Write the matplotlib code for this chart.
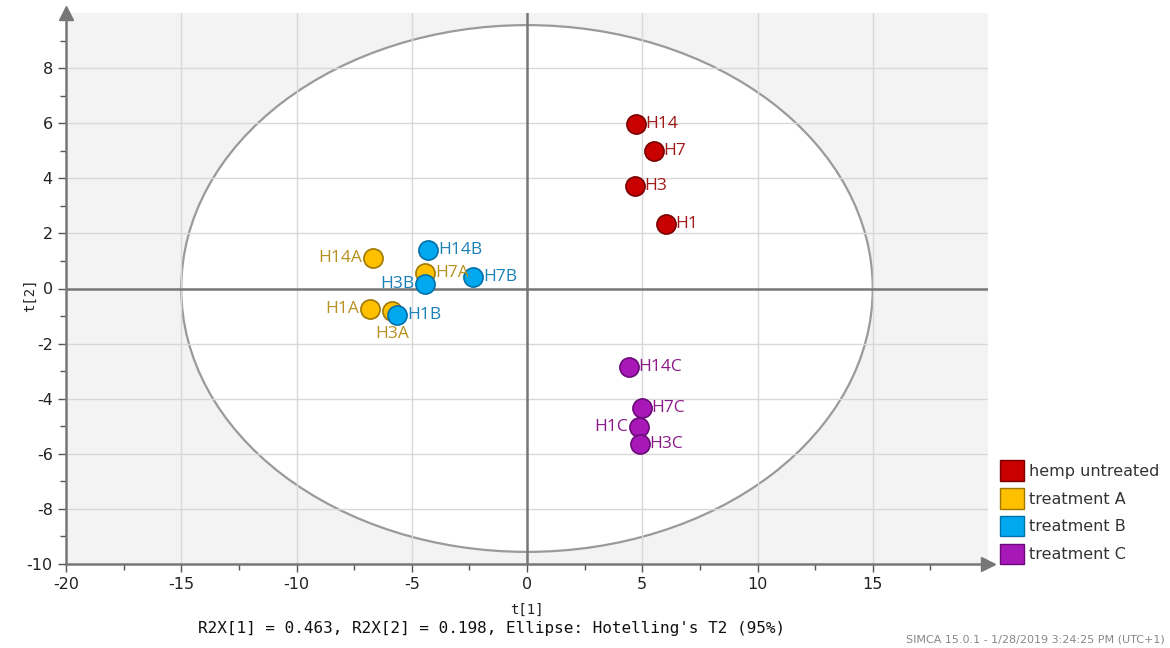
import numpy as np
import matplotlib.pyplot as plt
from matplotlib.patches import Ellipse, Patch

plt.rcParams['axes.unicode_minus'] = False

# score values
groups = ["hemp untreated", "treatment A", "treatment B", "treatment C"]
labels_red = ["H14", "H7", "H3", "H1"]
t1_red = [4.72, 5.50, 4.68, 6.03]
t2_red = [5.96, 4.98, 3.71, 2.33]

labels_a = ["H14A", "H7A", "H1A", "H3A"]
t1_a = [-6.68, -4.42, -6.81, -5.85]
t2_a = [1.09, 0.58, -0.76, -0.80]

labels_b = ["H14B", "H7B", "H3B", "H1B"]
t1_b = [-4.29, -2.34, -4.42, -5.63]
t2_b = [1.38, 0.40, 0.15, -0.98]

labels_c = ["H14C", "H7C", "H1C", "H3C"]
t1_c = [4.42, 4.98, 4.85, 4.90]
t2_c = [-2.84, -4.33, -5.02, -5.64]

ellipse_a, ellipse_b = 15.0, 9.56

fills = ["#c80000", "#ffc000", "#00a8f0", "#a818b8"]
edges = ["#7a0000", "#a07800", "#0070a8", "#6a0a78"]
text_cols = ["#a01818", "#b89020", "#1a80b8", "#8a1a8a"]

# label offsets in points (dx, dy, ha)
right = (7, 0, "left")
left = (-8, 0, "right")
below = (0, -17, "center")
offsets = {
    "H14A": left, "H1A": left, "H3B": left, "H1C": left, "H3A": below,
}

fig = plt.figure(figsize=(11.7, 6.48), dpi=100)
ax = fig.add_axes([66 / 1170, 1 - 564 / 648, (988 - 66) / 1170, (564 - 13) / 648])
ax.set_facecolor("#f3f3f3")
ax.set_xlim(-20, 20)
ax.set_ylim(-10, 10)

ax.add_patch(Ellipse((0, 0), 2 * ellipse_a, 2 * ellipse_b, facecolor="white",
                     edgecolor="#9a9a9a", lw=1.6, zorder=1))

for v in [-15, -10, -5, 5, 10, 15]:
    ax.axvline(v, color="#d8d8d8", lw=1, zorder=1.5)
for v in [-8, -6, -4, -2, 2, 4, 6, 8]:
    ax.axhline(v, color="#d8d8d8", lw=1, zorder=1.5)
ax.axvline(0, color="#777777", lw=1.8, zorder=2)
ax.axhline(0, color="#777777", lw=1.8, zorder=2)

for spine in ["top", "right"]:
    ax.spines[spine].set_visible(False)
for spine in ["left", "bottom"]:
    ax.spines[spine].set_color("#777777")
    ax.spines[spine].set_linewidth(1.8)

# axis arrows
ax.plot(1, 0, ">", transform=ax.transAxes, color="#777777", ms=10, clip_on=False)
ax.plot(0, 1, "^", transform=ax.transAxes, color="#777777", ms=10, clip_on=False)

ax.set_xticks([-20, -15, -10, -5, 0, 5, 10, 15])
ax.set_xticks(np.arange(-17.5, 20, 5), minor=True)
ax.set_yticks(np.arange(-10, 9, 2))
ax.set_yticks(np.arange(-9, 10, 2), minor=True)
ax.tick_params(which="both", color="#555555", labelsize=11.5, labelcolor="#222222")
ax.tick_params(which="major", length=6, width=1)
ax.tick_params(which="minor", length=4, width=1)

series = [(t1_red, t2_red, labels_red), (t1_a, t2_a, labels_a),
          (t1_b, t2_b, labels_b), (t1_c, t2_c, labels_c)]
for i, (xs, ys, labs) in enumerate(series):
    ax.scatter(xs, ys, s=190, c=fills[i], edgecolors=edges[i], linewidths=1.2, zorder=5)
    for x, y, lab in zip(xs, ys, labs):
        dx, dy, ha = offsets.get(lab, right)
        ax.annotate(lab, (x, y), xytext=(dx, dy), textcoords="offset points",
                    ha=ha, va="center", fontsize=12.5, color=text_cols[i],
                    family="Open Sans", zorder=6)

fig.text(527 / 1170, 1 - 610 / 648, "t[1]", ha="center", va="center", fontsize=10,
         family="DejaVu Sans Mono", color="#222222")
fig.text(30 / 1170, 1 - 295 / 648, "t[2]", ha="center", va="center", fontsize=10,
         rotation=90, family="DejaVu Sans Mono", color="#222222")
fig.text(492 / 1170, 1 - 628 / 648,
         "R2X[1] = 0.463, R2X[2] = 0.198, Ellipse: Hotelling's T2 (95%)",
         ha="center", va="center", fontsize=11.5, family="DejaVu Sans Mono", color="#111111")
fig.text(1165 / 1170, 1 - 640 / 648, "SIMCA 15.0.1 - 1/28/2019 3:24:25 PM (UTC+1)",
         ha="right", va="center", fontsize=8, color="#888888")

handles = [Patch(facecolor=fills[i], edgecolor=edges[i]) for i in range(4)]
fig.legend(handles, groups, loc="upper left", bbox_to_anchor=(994 / 1170, 1 - 454 / 648),
           frameon=False, fontsize=11.5, handlelength=1.5, handleheight=1.6,
           handletextpad=0.3, labelspacing=0.45, borderaxespad=0, labelcolor="#333333")

fig.savefig("out.png", dpi=100)
